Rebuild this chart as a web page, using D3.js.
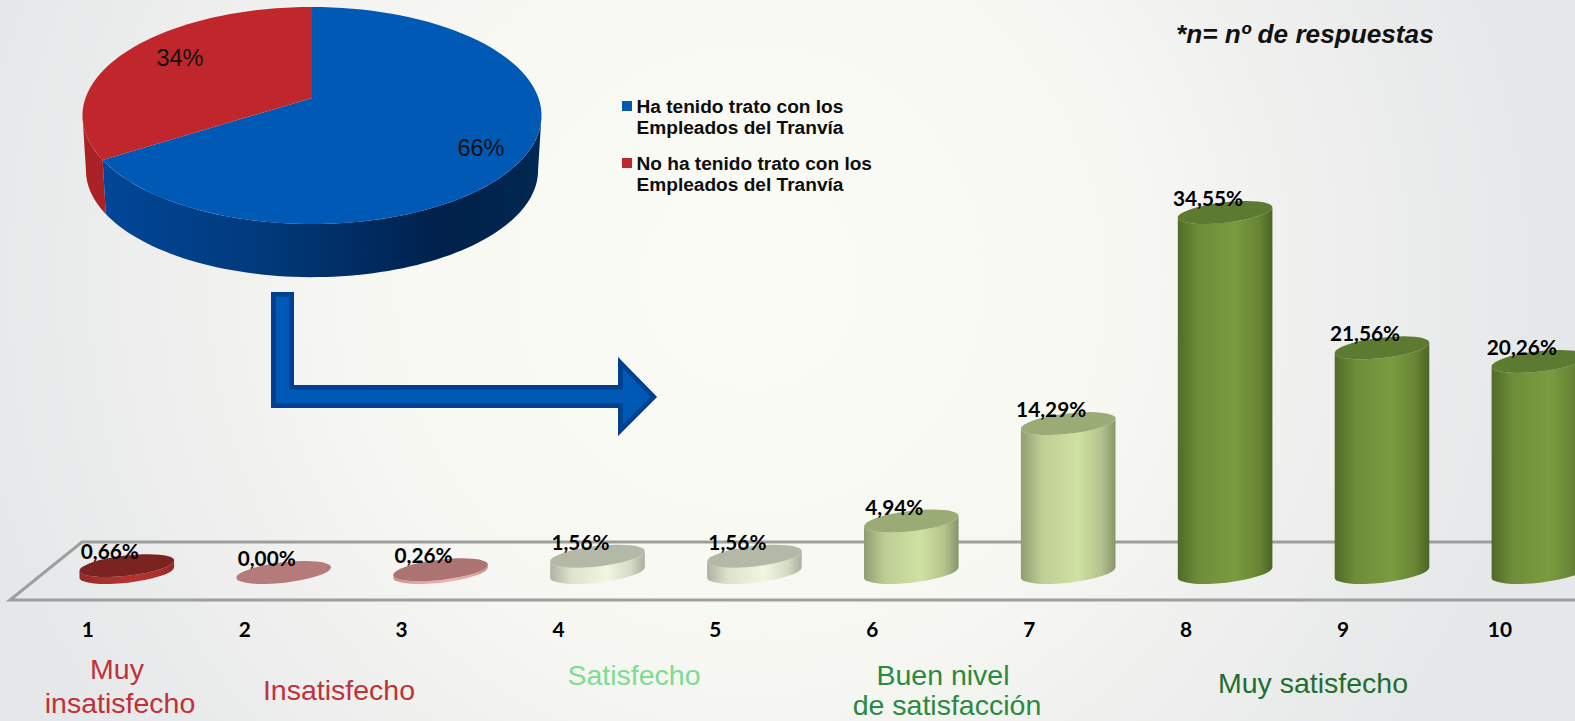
<!DOCTYPE html>
<html>
<head>
<meta charset="utf-8">
<script src="https://cdn.jsdelivr.net/npm/d3@7"></script>
<style>
  html, body { margin: 0; padding: 0; overflow: hidden; }
  svg { display: block; }
  text { font-family: "Liberation Sans", Arial, sans-serif; }
  .num { font-family: Lato, sans-serif; font-weight: 700; font-size: 20.8px; fill: #000; }
</style>
</head>
<body>
<script>
// pie data
const pieNames = ["Ha tenido trato con los|Empleados del Tranvía", "No ha tenido trato con los|Empleados del Tranvía"];
const pieValues = [66, 34];
const pieColors = ["#0059b5", "#c0272d"];

// bar data
const categories = ["1", "2", "3", "4", "5", "6", "7", "8", "9", "10"];
const values = [0.66, 0, 0.26, 1.56, 1.56, 4.94, 14.29, 34.55, 21.56, 20.26];
const barClass = ["dark", "pale", "pink", "cream", "cream", "light", "light", "green", "green", "green"];

const groupLabels = [
  { text: "Muy", x: 117, y: 679, c: "#c0323a" },
  { text: "insatisfecho", x: 120, y: 713, c: "#c0323a" },
  { text: "Insatisfecho", x: 339, y: 700, c: "#c0323a" },
  { text: "Satisfecho", x: 634, y: 685, c: "#7ddc90" },
  { text: "Buen nivel", x: 943, y: 685, c: "#2a8a40" },
  { text: "de satisfacción", x: 947, y: 714.5, c: "#2a8a40" },
  { text: "Muy satisfecho", x: 1313, y: 693, c: "#1f6e30" }
];

const width = 1575, height = 721;

const svg = d3.select("body").append("svg")
  .attr("width", width)
  .attr("height", height);
const defs = svg.append("defs");

// background
const bg = defs.append("radialGradient").attr("id", "bg")
  .attr("gradientUnits", "userSpaceOnUse")
  .attr("cx", 750).attr("cy", 280).attr("r", 800);
bg.append("stop").attr("offset", "0%").attr("stop-color", "#fcfcf6");
bg.append("stop").attr("offset", "45%").attr("stop-color", "#f8f8f3");
bg.append("stop").attr("offset", "100%").attr("stop-color", "#e5e7e9");
svg.append("rect").attr("width", width).attr("height", height).attr("fill", "url(#bg)");

// cylinder gradients
const barStyles = {
  dark:  { top: "#7a2320", side: ["#8f2a28", "#b5332f", "#8f2a28"] },
  pale:  { top: "#b57b7a", side: ["#b57b7a", "#c98a8a", "#b57b7a"] },
  pink:  { top: "#ab7472", side: ["#c98a8a", "#f0b0b0", "#c98a8a"] },
  cream: { top: "#b4b8a6", side: ["#aeb3a0", "#f0f6df", "#aab09c"] },
  light: { top: "#9bab75", side: ["#8f9d72", "#d0e2a2", "#87956a"] },
  green: { top: "#5c7a30", side: ["#4f6b28", "#7b9b40", "#4c6524"] }
};
Object.entries(barStyles).forEach(([k, s]) => {
  const g = defs.append("linearGradient").attr("id", "side-" + k);
  g.append("stop").attr("offset", "0%").attr("stop-color", s.side[0]);
  g.append("stop").attr("offset", "22%").attr("stop-color", d3.interpolateRgb(s.side[0], s.side[1])(0.7));
  g.append("stop").attr("offset", "60%").attr("stop-color", s.side[1]);
  g.append("stop").attr("offset", "85%").attr("stop-color", d3.interpolateRgb(s.side[1], s.side[2])(0.4));
  g.append("stop").attr("offset", "100%").attr("stop-color", s.side[2]);
});

// floor of the chart
const floor = d3.line()([[1575, 542], [82, 542], [10, 600], [1575, 600]]);
svg.append("path").attr("d", floor)
  .attr("fill", "none").attr("stroke", "#9e9e9e").attr("stroke-width", 3);

// scales
const x = d3.scaleBand().domain(categories).range([79.5, 1586.2]).paddingInner(0.397).paddingOuter(0);
const y = d3.scaleLinear().domain([0, 34.55]).range([572.5, 212.5]);

const tilt = -6.5, ry = 10.2;
const lift = x.bandwidth() / 2 * Math.tan(-tilt * Math.PI / 180);

function bodyPath(d, i) {
  const l = x(categories[i]), r = l + x.bandwidth(), rx = x.bandwidth() / 2 / Math.cos(tilt * Math.PI / 180);
  const y0 = y(0), y1 = y(d);
  return `M${l},${y1 + lift}L${l},${y0 + lift}A${rx},${ry} ${tilt} 0 0 ${r},${y0 - lift}L${r},${y1 - lift}A${rx},${ry} ${tilt} 0 1 ${l},${y1 + lift}Z`;
}

svg.selectAll(".bar")
  .data(values)
  .enter()
  .append("path")
  .attr("class", "bar")
  .attr("d", bodyPath)
  .attr("fill", (d, i) => `url(#side-${barClass[i]})`);

svg.selectAll(".cap")
  .data(values)
  .enter()
  .append("ellipse")
  .attr("class", "cap")
  .attr("rx", x.bandwidth() / 2 / Math.cos(tilt * Math.PI / 180))
  .attr("ry", ry)
  .attr("transform", (d, i) => `translate(${x(categories[i]) + x.bandwidth() / 2},${y(d)}) rotate(${tilt})`)
  .attr("fill", (d, i) => barStyles[barClass[i]].top);

// value labels
const es = d3.formatLocale({ decimal: ",", thousands: ".", grouping: [3], currency: ["", "€"] });
const pct = es.format(".2f");
svg.selectAll(".val")
  .data(values)
  .enter()
  .append("text")
  .attr("class", "num val")
  .attr("text-anchor", "middle")
  .attr("x", (d, i) => x(categories[i]) + x.bandwidth() / 2 - 17)
  .attr("y", d => y(d) - 6.5)
  .text(d => pct(d) + "%");

// category axis
const axis = svg.append("g")
  .attr("transform", "translate(-39,620)")
  .call(d3.axisBottom(x).tickSize(0).tickPadding(0));
axis.select(".domain").remove();
axis.selectAll("text").attr("class", "num").attr("dy", 0).attr("y", 17);

svg.selectAll(".group")
  .data(groupLabels)
  .enter()
  .append("text")
  .attr("class", "group")
  .attr("text-anchor", "middle")
  .attr("x", d => d.x)
  .attr("y", d => d.y)
  .attr("fill", d => d.c)
  .style("font-size", "28.5px")
  .text(d => d.text);

// pie drawn with a perspective warp of the unit circle
const pieCx = 312, pieCy = 98, pieA = 226.5, pieB = 105.7, pieK = 0.1613;
function project(a, s = 1, dy = 0) {
  const u = Math.sin(a), v = Math.cos(a), w = 1 + pieK * v;
  return [pieCx + s * pieA * u / w, pieCy + dy - s * pieB * v / w];
}
const arcs = d3.pie().sort(null)(pieValues);
const wedge = (a0, a1, fn) => d3.range(0, 81).map(i => fn(a0 + (a1 - a0) * i / 80));
const edge = Math.acos(-pieK);   // where the rim leaves the silhouette
const line = d3.line();

const sideBlue = defs.append("linearGradient").attr("id", "side-blue")
  .attr("gradientUnits", "userSpaceOnUse").attr("x1", 105).attr("x2", 540).attr("y1", 0).attr("y2", 0);
[[0, "#014697"], [0.35, "#013a7d"], [0.62, "#002a5d"], [0.78, "#00214a"], [1, "#002852"]].forEach(s =>
  sideBlue.append("stop").attr("offset", s[0]).attr("stop-color", s[1]));

function sidePath(a0, a1) {
  const front = wedge(a0, a1, a => project(a));
  const back = wedge(a1, a0, a => project(a, 0.985, 55));
  return line(front.concat(back)) + "Z";
}
const tau = 2 * Math.PI;
const redStart = arcs[1].startAngle;
svg.append("path").attr("d", sidePath(tau - edge, redStart)).attr("fill", "#ab2226");
svg.append("path").attr("d", sidePath(edge, redStart)).attr("fill", "url(#side-blue)");

svg.selectAll(".slice")
  .data(arcs)
  .enter()
  .append("path")
  .attr("class", "slice")
  .attr("d", d => line([[pieCx, pieCy]].concat(wedge(d.startAngle, d.endAngle, a => project(a)))) + "Z")
  .attr("fill", (d, i) => pieColors[i]);

const pieLabelPos = [[481, 156], [180, 66]];
svg.selectAll(".pie-label")
  .data(arcs)
  .enter()
  .append("text")
  .attr("class", "pie-label")
  .attr("text-anchor", "middle")
  .attr("x", (d, i) => pieLabelPos[i][0])
  .attr("y", (d, i) => pieLabelPos[i][1])
  .attr("fill", "#111")
  .style("font-size", "23.5px")
  .text(d => d.value + "%");

// legend
const legendY = [101, 158];
pieNames.forEach((name, i) => {
  svg.append("rect")
    .attr("x", 622).attr("y", legendY[i]).attr("width", 10).attr("height", 10)
    .attr("fill", pieColors[i]);
  name.split("|").forEach((t, j) => {
    svg.append("text")
      .attr("x", 636.5).attr("y", legendY[i] + 11.5 + j * 21.7)
      .attr("fill", "#0d0d0d")
      .style("font-size", "19.1px").style("font-weight", "700")
      .text(t);
  });
});

// arrow
const arrow = "M271,292H294V385H618V357L657,397L618,436V408H271Z";
defs.append("clipPath").attr("id", "arrow-clip").append("path").attr("d", arrow);
svg.append("path").attr("d", arrow)
  .attr("fill", "#0059b5").attr("stroke", "#00408f").attr("stroke-width", 9.5)
  .attr("clip-path", "url(#arrow-clip)");

// note
svg.append("text")
  .attr("x", 1176).attr("y", 42.5)
  .attr("fill", "#111")
  .style("font-size", "26.2px").style("font-weight", "700").style("font-style", "italic")
  .text("*n= nº de respuestas");
</script>
</body>
</html>
